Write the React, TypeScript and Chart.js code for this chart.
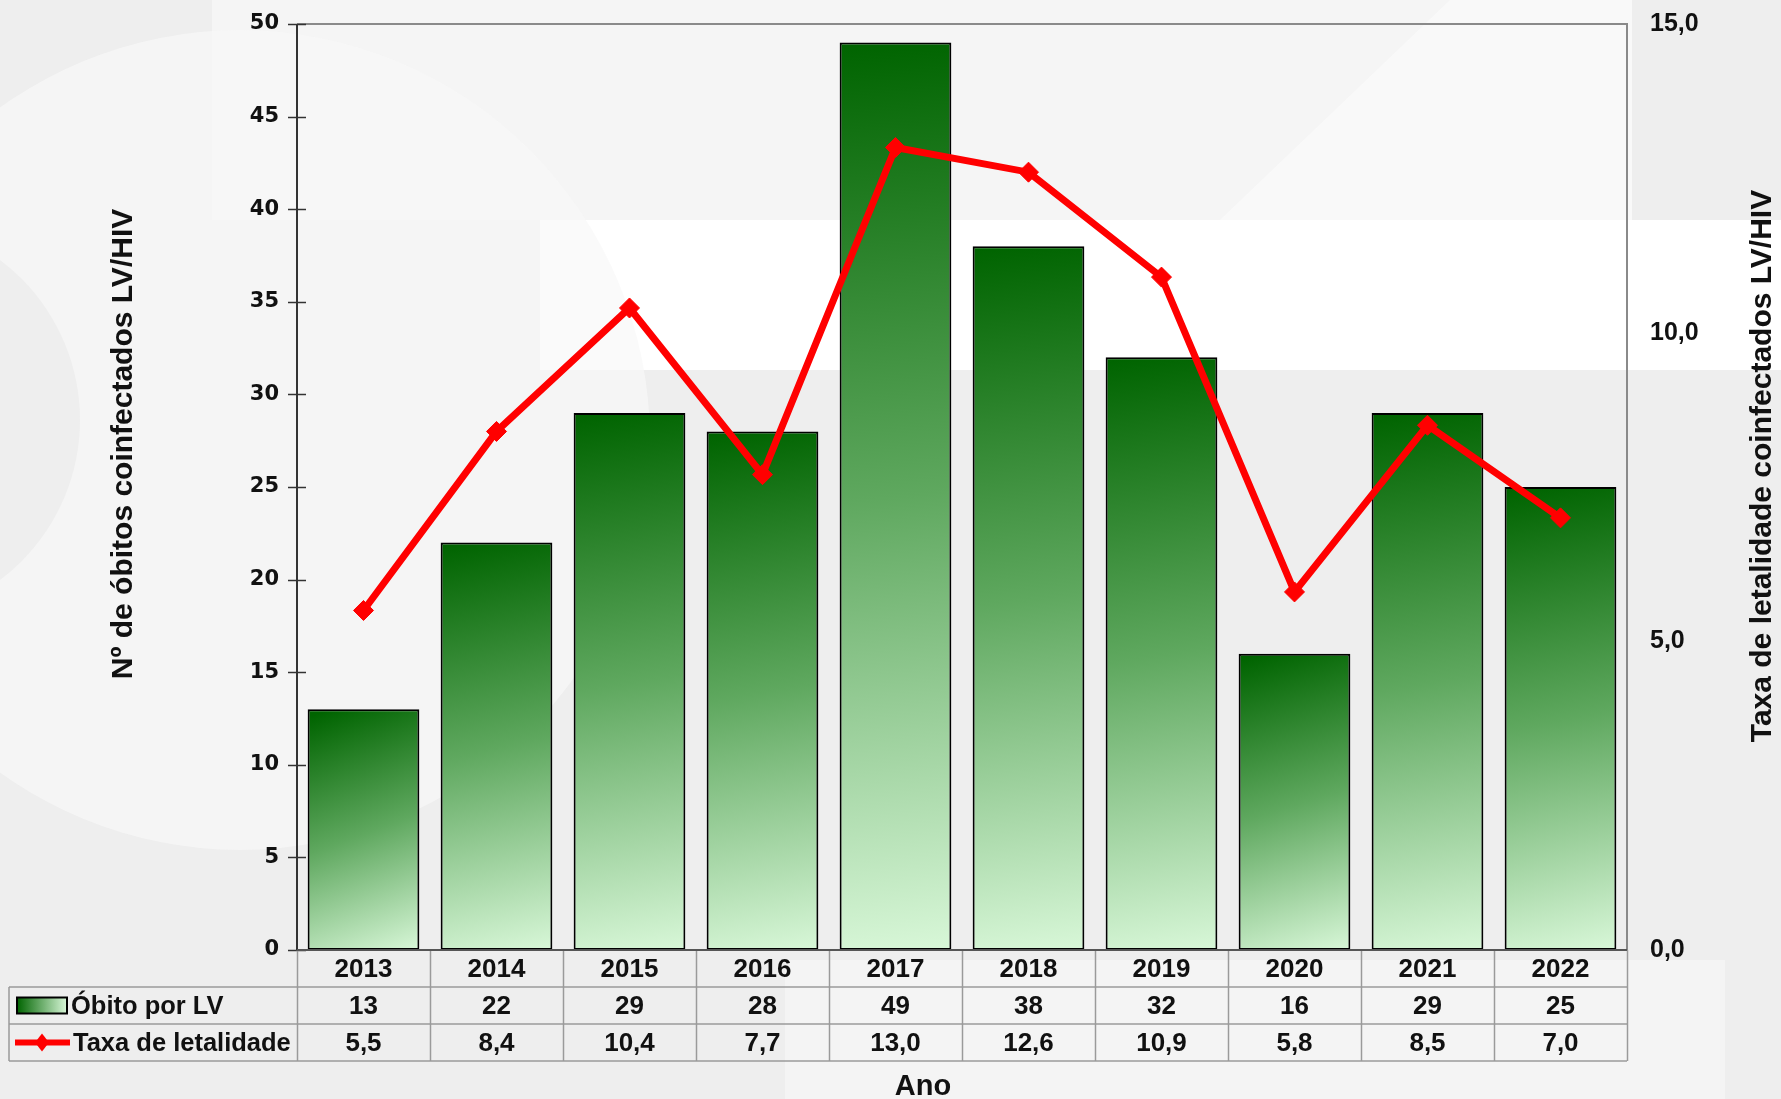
import React, { useEffect, useRef } from "react";
import { Chart, registerables } from "chart.js";

Chart.register(...registerables);

const years = ["2013", "2014", "2015", "2016", "2017", "2018", "2019", "2020", "2021", "2022"];
const obitos = [13, 22, 29, 28, 49, 38, 32, 16, 29, 25];
const taxa = [5.5, 8.4, 10.4, 7.7, 13.0, 12.6, 10.9, 5.8, 8.5, 7.0];
const obitosLabel = "Óbito por LV";
const taxaLabel = "Taxa de letalidade";
const leftTitle = "Nº de óbitos coinfectados LV/HIV";
const rightTitle = "Taxa de letalidade coinfectados LV/HIV";
const xTitle = "Ano";

const W = 1781;
const H = 1099;
const NARROW = '"Liberation Sans Narrow", "Arial Narrow", "Liberation Sans", Arial, sans-serif';
const SANS = '"Liberation Sans", Arial, sans-serif';
const WIDE = '"DejaVu Sans", Verdana, sans-serif';

const fmt = (v: number) => v.toFixed(1).replace(".", ",");

function barGradient(ctx: CanvasRenderingContext2D, x0: number, y0: number, x1: number, y1: number) {
  const g = ctx.createLinearGradient(x0, y0, x1, y1);
  g.addColorStop(0, "#006400");
  g.addColorStop(0.5, "#5fa85f");
  g.addColorStop(1, "#d8f7d8");
  return g;
}

const bgPlugin = {
  id: "bgDecor",
  beforeDraw(chart: any) {
    const c = chart.ctx as CanvasRenderingContext2D;
    c.save();
    c.fillStyle = "#eeeeee";
    c.fillRect(0, 0, W, H);
    c.fillStyle = "#f5f5f5";
    c.fillRect(212, 0, 1420, 220);
    c.fillStyle = "#ffffff";
    c.fillRect(540, 220, W - 540, 150);
    c.fillStyle = "rgba(248,248,248,0.7)";
    c.beginPath();
    c.arc(240, 440, 410, 0, Math.PI * 2);
    c.fill();
    c.fillStyle = "#eeeeee";
    c.beginPath();
    c.arc(-120, 420, 200, 0, Math.PI * 2);
    c.fill();
    c.fillStyle = "rgba(255,255,255,0.45)";
    c.beginPath();
    c.moveTo(1220, 220);
    c.lineTo(1450, 0);
    c.lineTo(1632, 0);
    c.lineTo(1632, 220);
    c.closePath();
    c.fill();
    c.fillStyle = "rgba(244,244,244,0.9)";
    c.fillRect(785, 960, 940, 139);
    c.restore();
  },
};

const tablePlugin = {
  id: "dataTable",
  afterDraw(chart: any) {
    const c = chart.ctx as CanvasRenderingContext2D;
    const a = chart.chartArea;
    const yS = chart.scales.y;
    const xS = chart.scales.x;
    const n = years.length;
    const colW = (a.right - a.left) / n;
    const tableLeft = 9;
    const r0 = a.bottom;
    const r1 = r0 + 37;
    const r2 = r1 + 37;
    const r3 = r2 + 37;
    c.save();

    c.strokeStyle = "#8a8a8a";
    c.lineWidth = 2;
    c.beginPath();
    c.moveTo(a.left, a.top);
    c.lineTo(a.right, a.top);
    c.lineTo(a.right, a.bottom);
    c.stroke();

    c.strokeStyle = "#333333";
    c.lineWidth = 2;
    c.beginPath();
    c.moveTo(a.left, a.top);
    c.lineTo(a.left, a.bottom);
    c.stroke();
    c.lineWidth = 1.5;
    for (const t of yS.ticks) {
      const py = Math.round(yS.getPixelForValue(t.value)) + 0.5;
      c.beginPath();
      c.moveTo(a.left - 9, py);
      c.lineTo(a.left + 9, py);
      c.stroke();
    }

    c.strokeStyle = "#9a9a9a";
    c.lineWidth = 1.5;
    c.beginPath();
    c.moveTo(a.left, r0);
    c.lineTo(a.right, r0);
    c.moveTo(tableLeft, r1);
    c.lineTo(a.right, r1);
    c.moveTo(tableLeft, r2);
    c.lineTo(a.right, r2);
    c.moveTo(tableLeft, r3);
    c.lineTo(a.right, r3);
    c.moveTo(tableLeft, r1);
    c.lineTo(tableLeft, r3);
    for (let i = 0; i <= n; i++) {
      const x = Math.round(a.left + i * colW) + 0.5;
      c.moveTo(x, r0);
      c.lineTo(x, r3);
    }
    c.stroke();

    c.strokeStyle = "#555555";
    c.lineWidth = 2;
    c.beginPath();
    c.moveTo(a.left, a.bottom);
    c.lineTo(a.right, a.bottom);
    c.stroke();

    c.fillStyle = "#111111";
    c.font = `bold 26px ${NARROW}`;
    c.textAlign = "center";
    c.textBaseline = "middle";
    for (let i = 0; i < n; i++) {
      const cx = xS.getPixelForValue(i);
      c.fillText(years[i], cx, (r0 + r1) / 2 + 1);
      c.fillText(String(obitos[i]), cx, (r1 + r2) / 2 + 1);
      c.fillText(fmt(taxa[i]), cx, (r2 + r3) / 2 + 1);
    }

    const sy1 = (r1 + r2) / 2;
    const g2 = c.createLinearGradient(17, 0, 67, 0);
    g2.addColorStop(0, "#006400");
    g2.addColorStop(1, "#d8f7d8");
    c.fillStyle = g2;
    c.fillRect(17, sy1 - 8, 50, 16);
    c.strokeStyle = "#000";
    c.lineWidth = 2;
    c.strokeRect(17, sy1 - 8, 50, 16);
    const sy2 = (r2 + r3) / 2;
    c.strokeStyle = "#ff0000";
    c.lineWidth = 6;
    c.beginPath();
    c.moveTo(15, sy2);
    c.lineTo(70, sy2);
    c.stroke();
    c.fillStyle = "#ff0000";
    c.beginPath();
    c.moveTo(42, sy2 - 9);
    c.lineTo(49, sy2);
    c.lineTo(42, sy2 + 9);
    c.lineTo(35, sy2);
    c.closePath();
    c.fill();

    c.fillStyle = "#111111";
    c.textAlign = "left";
    c.font = `bold 25.5px ${NARROW}`;
    c.fillText(obitosLabel, 71, sy1 + 1);
    c.fillText(taxaLabel, 73, sy2 + 1);

    c.font = `bold 29px ${SANS}`;
    c.textAlign = "center";
    c.fillText(xTitle, 923, 1087);
    c.font = `bold 30px ${NARROW}`;
    c.save();
    c.translate(124, 444);
    c.rotate(-Math.PI / 2);
    c.fillText(leftTitle, 0, 0);
    c.restore();
    c.save();
    c.translate(1763, 466);
    c.rotate(-Math.PI / 2);
    c.fillText(rightTitle, 0, 0);
    c.restore();

    c.restore();
  },
};

export default function App() {
  const ref = useRef<HTMLCanvasElement>(null);

  useEffect(() => {
    if (!ref.current) return;
    const chart = new Chart(ref.current, {
      type: "bar",
      data: {
        labels: years,
        datasets: [
          {
            type: "line",
            label: taxaLabel,
            data: taxa,
            yAxisID: "y1",
            borderColor: "#ff0000",
            backgroundColor: "#ff0000",
            borderWidth: 7,
            pointStyle: "rectRot",
            pointRadius: 10,
            pointBackgroundColor: "#ff0000",
            pointBorderColor: "#ff0000",
            pointBorderWidth: 1,
            tension: 0,
            order: 0,
          } as any,
          {
            type: "bar",
            label: obitosLabel,
            data: obitos,
            yAxisID: "y",
            borderColor: "#000000",
            borderWidth: 2,
            borderSkipped: false,
            barPercentage: 0.84,
            categoryPercentage: 1,
            order: 1,
            backgroundColor: (ctx: any) => {
              const ch = ctx.chart;
              const a = ch.chartArea;
              if (!a || ctx.dataIndex == null || !ch.scales.y) return "#3a8a3a";
              const v = obitos[ctx.dataIndex];
              const cx = ch.scales.x.getPixelForValue(ctx.dataIndex);
              const hw = ((a.right - a.left) / years.length) * 0.84 / 2;
              const top = ch.scales.y.getPixelForValue(v);
              return barGradient(ch.ctx, cx - hw * 0.6, top, cx + hw, a.bottom);
            },
          } as any,
        ],
      },
      options: {
        responsive: false,
        animation: false,
        devicePixelRatio: 1,
        layout: {
          autoPadding: false,
          padding: { top: 24, bottom: H - 948 - 2, left: 0, right: 0 },
        } as any,
        plugins: {
          legend: { display: false },
          tooltip: { enabled: false },
          title: { display: false },
        },
        scales: {
          x: {
            display: false,
            offset: true,
          },
          y: {
            position: "left",
            min: 0,
            max: 50,
            afterFit: (s: any) => {
              s.width = 297;
              s.paddingTop = 0;
              s.paddingBottom = 0;
            },
            ticks: {
              stepSize: 5,
              color: "#111111",
              padding: 18,
              font: { family: WIDE, size: 21, weight: "bold" },
            },
            grid: { display: false, drawTicks: false },
            border: { display: false },
          },
          y1: {
            position: "right",
            min: 0,
            max: 15,
            afterFit: (s: any) => {
              s.width = W - 1627;
              s.paddingTop = 0;
              s.paddingBottom = 0;
            },
            ticks: {
              stepSize: 5,
              color: "#111111",
              padding: 23,
              font: { family: NARROW, size: 25, weight: "bold" },
              callback: (v: any) => fmt(Number(v)),
            },
            grid: { display: false, drawTicks: false },
            border: { display: false },
          },
        },
      },
      plugins: [bgPlugin, tablePlugin],
    });
    return () => chart.destroy();
  }, []);

  return (
    <div style={{ position: "absolute", left: 0, top: 0, width: W, height: H }}>
      <canvas ref={ref} width={W} height={H} style={{ width: W, height: H, display: "block" }} />
    </div>
  );
}
